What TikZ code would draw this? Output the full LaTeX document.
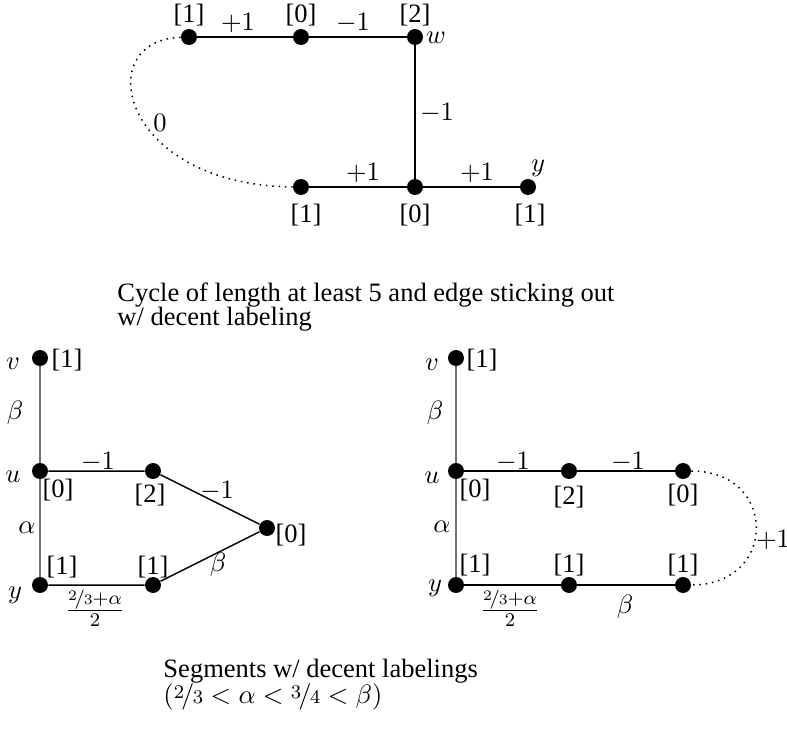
\documentclass[tikz,border=0pt]{standalone}
\usepackage{fontspec}
\setmainfont{Liberation Serif}
\usepackage{nicefrac}
\usepackage{tikz}

\begin{document}
\begin{tikzpicture}[x=0.413pt, y=-0.413pt,
	font=\fontsize{10.95}{13}\selectfont,
	vtx/.style={circle, fill=black, inner sep=0pt, minimum size=6.6pt},
	lab/.style={inner sep=1pt},
	captext/.style={anchor=base west, inner sep=0pt},
	edge/.style={line width=0.62pt},
	vedge/.style={line width=0.8pt, draw=black!55},
	loose/.style={line width=0.62pt, dotted}]

	\useasboundingbox (0,0) rectangle (787,731);

	% top: cycle with the edge sticking out
	\node[vtx] (t1) at (189,37) {};
	\node[vtx] (t2) at (301,37) {};
	\node[vtx] (t3) at (415,37) {};
	\node[vtx] (t4) at (301,187) {};
	\node[vtx] (t5) at (415,187) {};
	\node[vtx] (t6) at (528,187) {};

	\draw[edge] (t1) -- (t2) -- (t3) -- (t5);
	\draw[edge] (t4) -- (t5) -- (t6);
	\draw[loose] (t1) .. controls (90,40) and (120,185) .. (t4);

	\node[lab] (t1w) at (189,15) {[1]};
	\node[lab] (t2w) at (301,15) {[0]};
	\node[lab] (t3w) at (415,15) {[2]};
	\node[lab] (t4w) at (306,215) {[1]};
	\node[lab] (t5w) at (415,215) {[0]};
	\node[lab] (t6w) at (530,215) {[1]};
	\node[lab] (tw) at (436,38) {$w$};
	\node[lab] (ty) at (538,168) {$y$};

	\node[lab] (t12) at (238,23) {$+1$};
	\node[lab] (t23) at (353,23) {$-1$};
	\node[lab] (t35) at (437,113) {$-1$};
	\node[lab] (t14) at (160,123) {$0$};
	\node[lab] (t45) at (363,173) {$+1$};
	\node[lab] (t56) at (477,173) {$+1$};

	\node[captext] (cap1) at (117,301) {Cycle of length at least 5 and edge sticking out};
	\node[captext] (cap2) at (117,325) {w/ decent labeling};

	% bottom left segment
	\node[vtx] (lv) at (40,358) {};
	\node[vtx] (lu) at (40,471) {};
	\node[vtx] (la) at (153,471) {};
	\node[vtx] (lb) at (267,528) {};
	\node[vtx] (ly) at (40,585) {};
	\node[vtx] (lc) at (153,585) {};

	\draw[vedge] (lv) -- (lu) -- (ly);
	\draw[edge] (lu) -- (la) -- (lb) -- (lc) -- (ly);

	\node[lab] (lvn) at (13,364) {$v$};
	\node[lab] (lun) at (13,477) {$u$};
	\node[lab] (lyn) at (15,595) {$y$};
	\node[lab] (lvw) at (67,360) {[1]};
	\node[lab] (luw) at (58,490) {[0]};
	\node[lab] (law) at (150,495) {[2]};
	\node[lab] (lbw) at (291,535) {[0]};
	\node[lab] (lyw) at (62,567) {[1]};
	\node[lab] (lcw) at (153,567) {[1]};

	\node[lab] (lvu) at (15,413) {$\beta$};
	\node[lab] (luy) at (27,528) {$\alpha$};
	\node[lab] (lua) at (98,462) {$-1$};
	\node[lab] (lab1) at (217,491) {$-1$};
	\node[lab] (lbc) at (218,565) {$\beta$};
	\node[lab] (lyc) at (95,608) {$\frac{\nicefrac{2}{3}+\alpha}{2}$};

	% bottom right segment
	\node[vtx] (rv) at (456,358) {};
	\node[vtx] (ru) at (456,471) {};
	\node[vtx] (ra) at (569,471) {};
	\node[vtx] (rb) at (683,471) {};
	\node[vtx] (ry) at (456,585) {};
	\node[vtx] (rc) at (569,585) {};
	\node[vtx] (rd) at (683,585) {};

	\draw[vedge] (rv) -- (ru) -- (ry);
	\draw[edge] (ru) -- (ra) -- (rb);
	\draw[edge] (ry) -- (rc) -- (rd);
	\draw[loose] (rb) .. controls (778,471) and (778,585) .. (rd);

	\node[lab] (rvn) at (432,365) {$v$};
	\node[lab] (run) at (432,478) {$u$};
	\node[lab] (ryn) at (435,588) {$y$};
	\node[lab] (rvw) at (482,360) {[1]};
	\node[lab] (ruw) at (475,490) {[0]};
	\node[lab] (raw) at (569,497) {[2]};
	\node[lab] (rbw) at (683,495) {[0]};
	\node[lab] (ryw) at (475,565) {[1]};
	\node[lab] (rcw) at (569,565) {[1]};
	\node[lab] (rdw) at (683,565) {[1]};

	\node[lab] (rvu) at (435,413) {$\beta$};
	\node[lab] (ruy) at (442,527) {$\alpha$};
	\node[lab] (rua) at (513,462) {$-1$};
	\node[lab] (rab) at (628,462) {$-1$};
	\node[lab] (rbd) at (773,540) {$+1$};
	\node[lab] (ryc) at (510,608) {$\frac{\nicefrac{2}{3}+\alpha}{2}$};
	\node[lab] (rcd) at (625,607) {$\beta$};

	\node[captext] (cap3) at (163,677) {Segments w/ decent labelings};
	\node[captext] (cap4) at (163,703) {$(\nicefrac{2}{3} < \alpha < \nicefrac{3}{4} < \beta)$};

\end{tikzpicture}
\end{document}
